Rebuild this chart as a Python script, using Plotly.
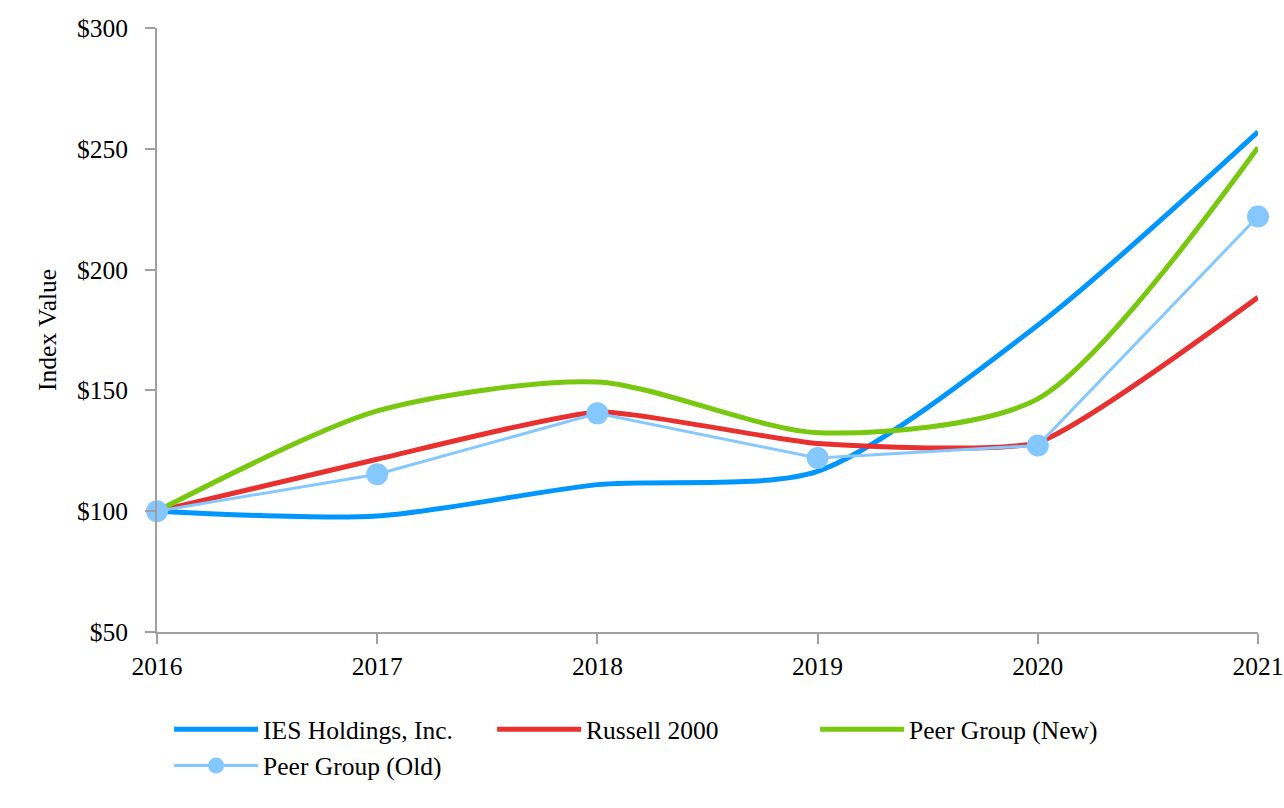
import plotly.graph_objects as go

years = [2016, 2017, 2018, 2019, 2020, 2021]
ies = [100, 98, 111, 116.5, 177, 257]
russell = [100, 121.5, 141, 128, 128.5, 188.5]
peer_new = [100, 141.5, 153.5, 132.5, 146.5, 250.5]
peer_old = [100, 115.3, 140.5, 122, 127.2, 222]
y_ticks = [50, 100, 150, 200, 250, 300]
y_tick_text = ["$50", "$100", "$150", "$200", "$250", "$300"]

FONT = "Liberation Serif, Times New Roman, serif"
FS = 25.5
SM = 0.75

fig = go.Figure()
fig.add_trace(go.Scatter(x=years, y=ies, name="IES Holdings, Inc.", mode="lines",
                         line=dict(color="#0096FF", width=5, shape="spline", smoothing=SM)))
fig.add_trace(go.Scatter(x=years, y=russell, name="Russell 2000", mode="lines",
                         line=dict(color="#E8312F", width=5, shape="spline", smoothing=0.5)))
fig.add_trace(go.Scatter(x=years, y=peer_new, name="Peer Group (New)", mode="lines",
                         line=dict(color="#77C80F", width=5, shape="spline", smoothing=SM)))
fig.add_trace(go.Scatter(x=years, y=peer_old, name="Peer Group (Old)", mode="lines+markers",
                         line=dict(color="#85C8FF", width=3),
                         marker=dict(color="#85C8FF", size=22), cliponaxis=False))

fig.update_layout(
    width=1284, height=808,
    margin=dict(l=157, r=26, t=28, b=176, autoexpand=False),
    paper_bgcolor="white", plot_bgcolor="white",
    font=dict(family=FONT, size=FS, color="black"),
    legend=dict(orientation="h", x=0.011, y=-0.123, xanchor="left", yanchor="top",
                entrywidth=224, entrywidthmode="pixels", itemwidth=84,
                font=dict(size=FS, family=FONT), tracegroupgap=0),
    showlegend=True,
    annotations=[dict(text="Index Value", xref="paper", yref="paper", x=-0.1, y=0.5,
                      xanchor="center", yanchor="middle", textangle=-90, showarrow=False,
                      font=dict(size=FS, family=FONT))],
)
fig.update_xaxes(range=[2016, 2021], tickvals=years, ticktext=[str(y) for y in years],
                 showline=True, linecolor="#A0A0A0", linewidth=2, ticks="outside",
                 tickcolor="#A0A0A0", ticklen=10, tickwidth=1.5, showgrid=False, zeroline=False,
                 automargin=False, ticklabeloverflow="allow", tickfont=dict(size=FS))
fig.update_yaxes(range=[50, 300], tickvals=y_ticks, ticktext=y_tick_text,
                 showline=True, linecolor="#A0A0A0", linewidth=2, ticks="outside",
                 tickcolor="#A0A0A0", ticklen=10, tickwidth=1.5, showgrid=False, zeroline=False,
                 automargin=False, ticklabelstandoff=12, tickfont=dict(size=FS))

fig.write_html("out.html", config={"displayModeBar": False},
               post_script="document.body.style.margin='0';document.body.style.overflow='hidden';")
